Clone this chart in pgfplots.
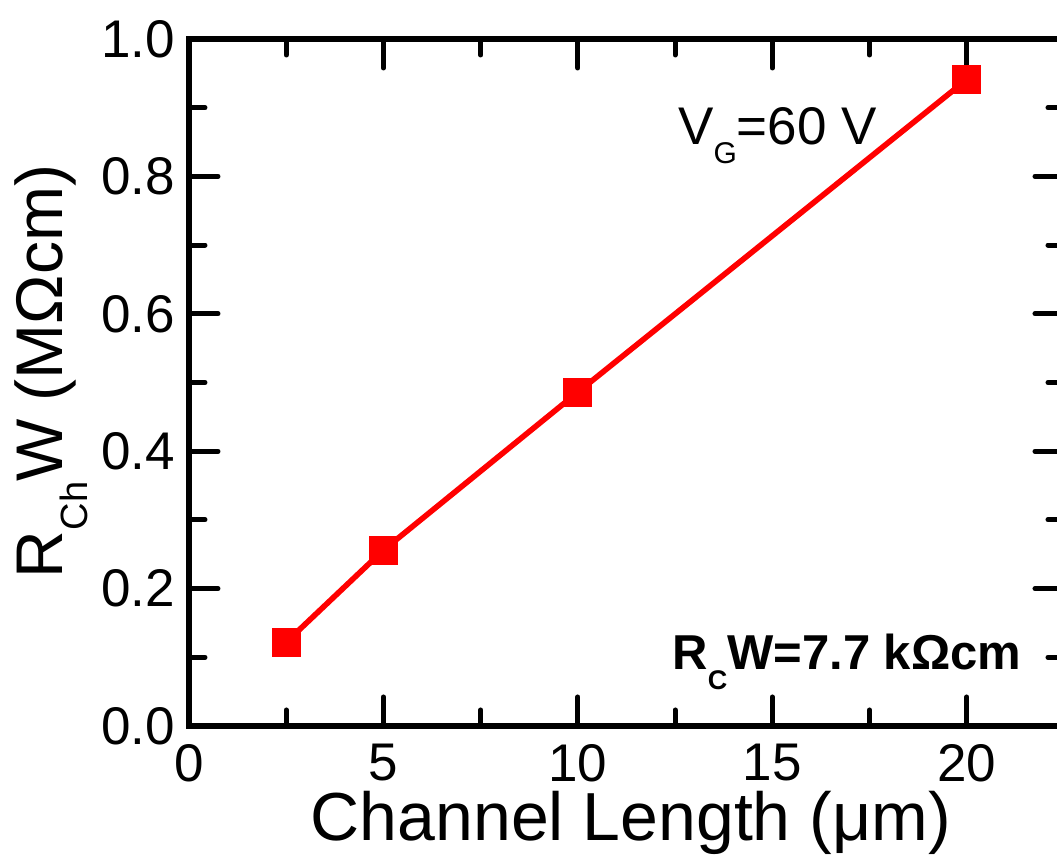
\documentclass[border=0pt]{standalone}
\usepackage{fontspec}
\setmainfont{Liberation Sans}
\usepackage{pgfplots}
\pgfplotsset{compat=1.18}
\newcommand\sub[3]{\raisebox{-#2}{\fontsize{#1}{#1}\selectfont #3}}
\begin{document}
\begin{tikzpicture}
\begin{axis}[
  scale only axis,
  width=437.5pt, height=343.5pt,
  xmin=0, xmax=22.5, ymin=0, ymax=1.0,
  xtick={0,5,10,15,20},
  ytick={0,0.2,0.4,0.6,0.8,1.0},
  minor x tick num=1, minor y tick num=1,
  tick align=inside,
  axis line style={line width=3pt},
  every tick/.style={line width=2.5pt, black, line cap=round},
  major tick length=14.5pt, minor tick length=8pt,
  /pgf/number format/assume math mode=true,
  ticklabel style={font=\fontsize{26.5}{26.5}\selectfont},
  xticklabel style={yshift=-5.5pt},
  yticklabel style={xshift=-3.5pt, /pgf/number format/fixed, /pgf/number format/fixed zerofill, /pgf/number format/precision=1},
  xlabel={Channel Length (μm)},
  xlabel style={font=\fontsize{34}{34}\selectfont, at={(axis description cs:0.505,-0.166)}, anchor=base, inner sep=0pt},
  ylabel={R\sub{19pt}{12.5pt}{Ch}W (MΩcm)},
  ylabel style={font=\fontsize{33}{33}\selectfont, at={(axis description cs:-0.145,0.516)}, anchor=base, rotate=0, inner sep=0pt},
]
\addplot[red, line width=2.8pt, mark=square*, mark size=7pt, mark options={solid, fill=red, draw=red, line width=0pt}]
  coordinates {(2.5,0.122) (5,0.256) (10,0.486) (20,0.941)};
\node[anchor=base west, inner sep=0pt, font=\fontsize{26.5}{26.5}\selectfont] at (axis cs:12.57,0.846) {V\sub{15pt}{9.5pt}{G}=60 V};
\node[anchor=base west, inner sep=0pt, font=\fontsize{24.5}{24.5}\selectfont\bfseries] at (axis cs:12.42,0.0815) {R\sub{13.5pt}{10pt}{C}W=7.7 kΩcm};
\end{axis}
\pgfresetboundingbox
\path[use as bounding box] ([xshift=-94.5pt,yshift=-67pt]current axis.south west) rectangle ([xshift=-3.5pt,yshift=19.5pt]current axis.north east);
\end{tikzpicture}
\end{document}
